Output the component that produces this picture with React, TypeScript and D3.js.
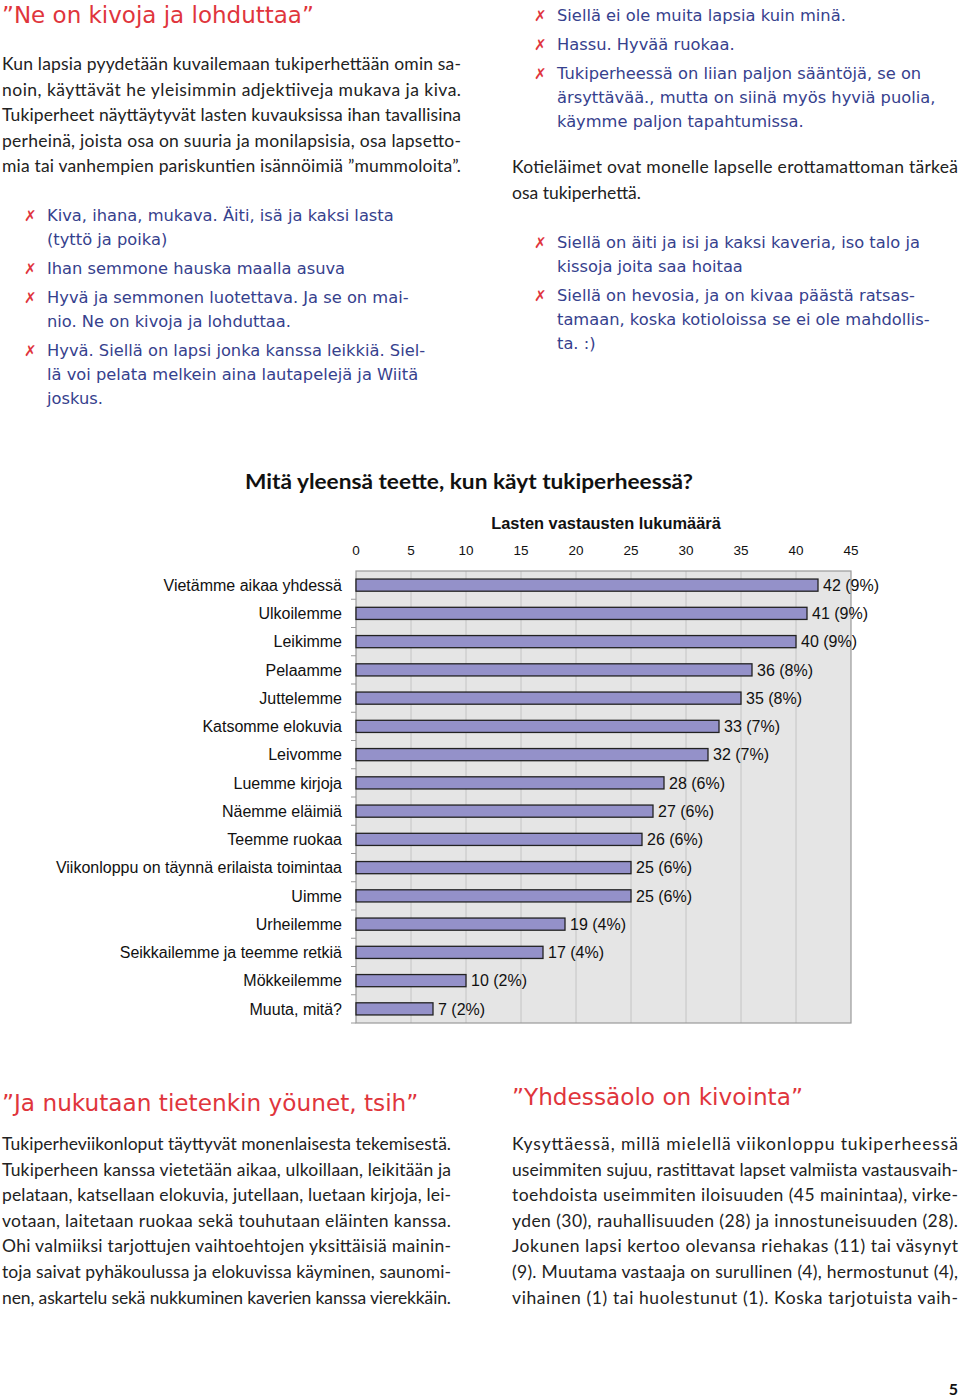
import React from 'react';
import * as d3 from 'd3';

// ---- chart data ----
const categories = [
  'Vietämme aikaa yhdessä',
  'Ulkoilemme',
  'Leikimme',
  'Pelaamme',
  'Juttelemme',
  'Katsomme elokuvia',
  'Leivomme',
  'Luemme kirjoja',
  'Näemme eläimiä',
  'Teemme ruokaa',
  'Viikonloppu on täynnä erilaista toimintaa',
  'Uimme',
  'Urheilemme',
  'Seikkailemme ja teemme retkiä',
  'Mökkeilemme',
  'Muuta, mitä?',
];
const counts = [42, 41, 40, 36, 35, 33, 32, 28, 27, 26, 25, 25, 19, 17, 10, 7];
const percents = [9, 9, 9, 8, 8, 7, 7, 6, 6, 6, 6, 6, 4, 4, 2, 2];
const xTicks = [0, 5, 10, 15, 20, 25, 30, 35, 40, 45];
const chartTitle = 'Mitä yleensä teette, kun käyt tukiperheessä?';
const axisTitle = 'Lasten vastausten lukumäärä';

// ---- page text ----
const heading1 = '”Ne on kivoja ja lohduttaa”';
const para1 = [
  'Kun lapsia pyydetään kuvailemaan tukiperhettään omin sa-',
  'noin, käyttävät he yleisimmin adjektiiveja mukava ja kiva.',
  'Tukiperheet näyttäytyvät lasten kuvauksissa ihan tavallisina',
  'perheinä, joista osa on suuria ja monilapsisia, osa lapsetto-',
  'mia tai vanhempien pariskuntien isännöimiä ”mummoloita”.',
];
const quotesLeft = [
  ['Kiva, ihana, mukava. Äiti, isä ja kaksi lasta', '(tyttö ja poika)'],
  ['Ihan semmone hauska maalla asuva'],
  ['Hyvä ja semmonen luotettava. Ja se on mai-', 'nio. Ne on kivoja ja lohduttaa.'],
  ['Hyvä. Siellä on lapsi jonka kanssa leikkiä. Siel-', 'lä voi pelata melkein aina lautapelejä ja Wiitä', 'joskus.'],
];
const quotesRight1 = [
  ['Siellä ei ole muita lapsia kuin minä.'],
  ['Hassu. Hyvää ruokaa.'],
  ['Tukiperheessä on liian paljon sääntöjä, se on', 'ärsyttävää., mutta on siinä myös hyviä puolia,', 'käymme paljon tapahtumissa.'],
];
const para2 = [
  'Kotieläimet ovat monelle lapselle erottamattoman tärkeä',
  'osa tukiperhettä.',
];
const quotesRight2 = [
  ['Siellä on äiti ja isi ja kaksi kaveria, iso talo ja', 'kissoja joita saa hoitaa'],
  ['Siellä on hevosia, ja on kivaa päästä ratsas-', 'tamaan, koska kotioloissa se ei ole mahdollis-', 'ta. :)'],
];
const heading2 = '”Ja nukutaan tietenkin yöunet, tsih”';
const para3 = [
  'Tukiperheviikonloput täyttyvät monenlaisesta tekemisestä.',
  'Tukiperheen kanssa vietetään aikaa, ulkoillaan, leikitään ja',
  'pelataan, katsellaan elokuvia, jutellaan, luetaan kirjoja, lei-',
  'votaan, laitetaan ruokaa sekä touhutaan eläinten kanssa.',
  'Ohi valmiiksi tarjottujen vaihtoehtojen yksittäisiä mainin-',
  'toja saivat pyhäkoulussa ja elokuvissa käyminen, saunomi-',
  'nen, askartelu sekä nukkuminen kaverien kanssa vierekkäin.',
];
const heading3 = '”Yhdessäolo on kivointa”';
const para4 = [
  'Kysyttäessä, millä mielellä viikonloppu tukiperheessä',
  'useimmiten sujuu, rastittavat lapset valmiista vastausvaih-',
  'toehdoista useimmiten iloisuuden (45 mainintaa), virke-',
  'yden (30), rauhallisuuden (28) ja innostuneisuuden (28).',
  'Jokunen lapsi kertoo olevansa riehakas (11) tai väsynyt',
  '(9). Muutama vastaaja on surullinen (4), hermostunut (4),',
  'vihainen (1) tai huolestunut (1). Koska tarjotuista vaih-',
];

const BODY = 'Lato, "Open Sans", sans-serif';
const HAND = '"DejaVu Sans", sans-serif';
const ARIAL = '"Liberation Sans", Arial, sans-serif';
const RED = '#e0353c';
const BLUE = '#36418d';

function Para({ x, y, dy, lines, width, justifyAll }: any) {
  return (
    <g fontFamily={BODY} fontSize={17.5} fill="#222">
      {lines.map((l: string, i: number) => {
        const just = justifyAll || i < lines.length - 1;
        return (
          <text
            key={i}
            x={x}
            y={y + i * dy}
            {...(just ? { textLength: width, lengthAdjust: 'spacing' } : {})}
          >
            {l}
          </text>
        );
      })}
    </g>
  );
}

function Quotes({ x, y, groups, lineDy, groupGap }: any) {
  const out: any[] = [];
  let cy = y;
  groups.forEach((g: string[], gi: number) => {
    out.push(
      <text key={'b' + gi} x={x - 23} y={cy} fill={RED} fontSize={15} fontFamily='"DejaVu Sans"'>
        ✗
      </text>
    );
    g.forEach((l, li) => {
      out.push(
        <text key={gi + '-' + li} x={x} y={cy} fill={BLUE} fontSize={16.3} fontFamily={HAND}>
          {l}
        </text>
      );
      cy += lineDy;
    });
    cy += groupGap;
  });
  return <g>{out}</g>;
}

function Chart() {
  const left = 356;
  const right = 851;
  const top = 571;
  const bottom = 1023;
  const x = d3.scaleLinear().domain([0, 45]).range([left, right]);
  const y = d3
    .scaleBand<string>()
    .domain(categories)
    .range([top, bottom])
    .paddingInner(0.57)
    .paddingOuter(0.285);
  const step = y.step();
  return (
    <g>
      <text
        x={245}
        y={489}
        fontFamily={BODY}
        fontWeight="bold"
        fontSize={21}
        fill="#111"
        textLength={448}
        lengthAdjust="spacingAndGlyphs"
      >
        {chartTitle}
      </text>
      <text x={606} y={529} textAnchor="middle" fontFamily={ARIAL} fontWeight="bold" fontSize={16.4} fill="#111">
        {axisTitle}
      </text>
      {xTicks.map((t) => (
        <text key={t} x={x(t)} y={555} textAnchor="middle" fontFamily={ARIAL} fontSize={13.5} fill="#111">
          {t}
        </text>
      ))}
      <rect x={left} y={top} width={right - left} height={bottom - top} fill="#e5e5e5" />
      {xTicks.slice(1, -1).map((t) => (
        <line key={t} x1={x(t)} x2={x(t)} y1={top} y2={bottom} stroke="#c4c4c4" strokeWidth={1} />
      ))}
      <rect x={left} y={top} width={right - left} height={bottom - top} fill="none" stroke="#9a9a9a" strokeWidth={1.2} />
      {categories.map((c, i) => (
        <line
          key={'t' + i}
          x1={left - 5}
          x2={left}
          y1={top + (i + 1) * step}
          y2={top + (i + 1) * step}
          stroke="#9a9a9a"
        />
      ))}
      {categories.map((c, i) => {
        const by = y(c)!;
        const cy = by + y.bandwidth() / 2;
        return (
          <g key={c}>
            <rect
              x={x(0)}
              y={by}
              width={x(counts[i]) - x(0)}
              height={y.bandwidth()}
              fill="#9491c9"
              stroke="#222"
              strokeWidth={1.3}
            />
            <text x={342} y={cy + 5.8} textAnchor="end" fontFamily={ARIAL} fontSize={16} fill="#111">
              {c}
            </text>
            <text x={x(counts[i]) + 5} y={cy + 5.8} fontFamily={ARIAL} fontSize={16} fill="#111">
              {`${counts[i]} (${percents[i]}%)`}
            </text>
          </g>
        );
      })}
    </g>
  );
}

export default function App() {
  return (
    <svg
      width={960}
      height={1397}
      viewBox="0 0 960 1397"
      style={{ position: 'absolute', left: 0, top: 0, background: '#fff' }}
    >
      <rect width={960} height={1397} fill="#fff" />
      <text x={2} y={23} fill={RED} fontSize={23} fontFamily={HAND}>{heading1}</text>
      <Para x={2} y={70} dy={25.6} lines={para1} width={459} justifyAll />
      <Quotes x={47} y={221} groups={quotesLeft} lineDy={24} groupGap={5} />

      <Quotes x={557} y={21} groups={quotesRight1} lineDy={24} groupGap={5} />
      <Para x={512} y={173} dy={25.6} lines={para2} width={446} />
      <Quotes x={557} y={248} groups={quotesRight2} lineDy={24} groupGap={5} />

      <Chart />

      <text x={2} y={1111} fill={RED} fontSize={23.2} fontFamily={HAND}>{heading2}</text>
      <Para x={2} y={1150} dy={25.6} lines={para3} width={449} justifyAll />
      <text x={512} y={1105} fill={RED} fontSize={23.2} fontFamily={HAND}>{heading3}</text>
      <Para x={512} y={1150} dy={25.6} lines={para4} width={446} justifyAll />

      <text x={958} y={1395} textAnchor="end" fontFamily={BODY} fontWeight="bold" fontSize={16} fill="#111">5</text>
    </svg>
  );
}
